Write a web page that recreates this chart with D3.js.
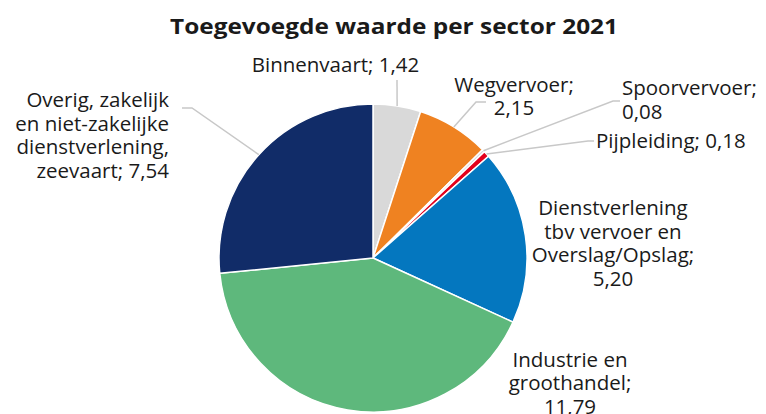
<!DOCTYPE html>
<html><head><meta charset="utf-8">
<script src="https://cdn.jsdelivr.net/npm/d3@7/dist/d3.min.js"></script>
<style>
body{margin:0;background:#fff;}
text{font-family:"Open Sans",sans-serif;fill:#1a1a1a;}
</style></head>
<body><svg id="c" width="766" height="414"></svg>
<script>
const sectors = ["Binnenvaart","Wegvervoer","Spoorvervoer","Pijpleiding","Dienstverlening tbv vervoer en Overslag/Opslag","Industrie en groothandel","Overig, zakelijk en niet-zakelijke dienstverlening, zeevaart"];
const values = [1.42,2.15,0.08,0.18,5.20,11.79,7.54];
const colors = ["#d9d9d9","#ef8221","#d9d9d9","#e3001b","#0477bf","#5eb87c","#112c68"];
const labelLines = [
  ["Binnenvaart; 1,42"],
  ["Wegvervoer;","2,15"],
  ["Spoorvervoer;","0,08"],
  ["Pijpleiding; 0,18"],
  ["Dienstverlening","tbv vervoer en","Overslag/Opslag;","5,20"],
  ["Industrie en","groothandel;","11,79"],
  ["Overig, zakelijk","en niet-zakelijke","dienstverlening,","zeevaart; 7,54"]
];
// layout: text anchor, x, y of first baseline, leader elbow points
const layout = [
  {anchor:"middle", x:335.5, y:72, pts:[[397,80]]},
  {anchor:"middle", x:514, y:91.5, pts:[[476,102],[486,102]]},
  {anchor:"start", x:622, y:95, pts:[[613,101],[620,101]]},
  {anchor:"start", x:596, y:148, pts:[[588,141],[594,141]]},
  {anchor:"middle", x:613, y:215, pts:null},
  {anchor:"middle", x:570, y:366.5, pts:null},
  {anchor:"end", x:169, y:107, pts:[[192,108],[182,108]]}
];

const svg = d3.select("#c");
const cx = 373, cy = 258, r = 154;
const g = svg.append("g").attr("transform",`translate(${cx},${cy})`);
const pie = d3.pie().sort(null).value(d=>d)(values);
const arc = d3.arc().innerRadius(0).outerRadius(r);

g.selectAll("path.slice").data(pie).join("path")
  .attr("class","slice")
  .attr("d",arc)
  .attr("fill",(d,i)=>colors[i])
  .attr("stroke","#fff").attr("stroke-width",1.5).attr("stroke-linejoin","round");

// leader lines
pie.forEach((d,i)=>{
  const L = layout[i];
  if(!L.pts) return;
  const a = (d.startAngle+d.endAngle)/2;
  const p0 = [cx + r*Math.sin(a), cy - r*Math.cos(a)];
  const pts = [p0, ...L.pts];
  svg.append("path")
    .attr("d", d3.line()(pts))
    .attr("fill","none").attr("stroke","#c8c8c8").attr("stroke-width",1.5);
});

// labels
labelLines.forEach((lines,i)=>{
  const L = layout[i];
  const t = svg.append("text").attr("text-anchor",L.anchor).attr("font-size",20.5);
  lines.forEach((s,j)=>{
    t.append("tspan").attr("x",L.x).attr("y",L.y + j*23.6).text(s);
  });
});

svg.append("text").attr("x",394).attr("y",33.5).attr("text-anchor","middle")
  .attr("font-size",22).attr("font-weight",700)
  .attr("textLength",448).attr("lengthAdjust","spacingAndGlyphs")
  .text("Toegevoegde waarde per sector 2021");
</script></body></html>
